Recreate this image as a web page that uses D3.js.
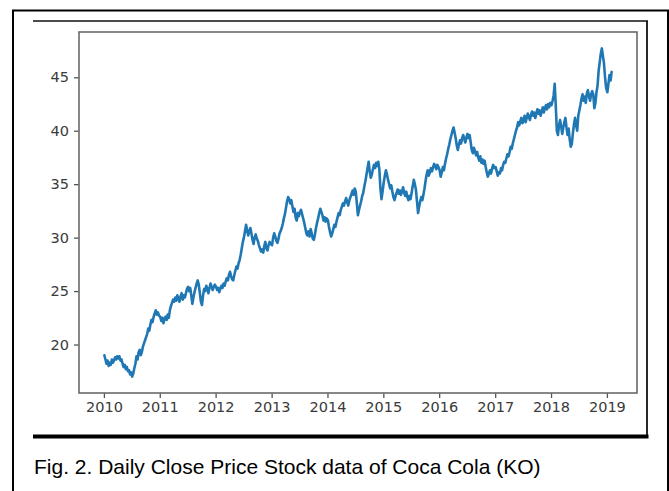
<!DOCTYPE html>
<html>
<head>
<meta charset="utf-8">
<script src="https://cdn.jsdelivr.net/npm/d3@7"></script>
<style>
  html, body { margin: 0; padding: 0; background: #ffffff; }
  svg { display: block; }
</style>
</head>
<body>
<svg id="fig" width="669" height="491"></svg>
<script>
// KO adjusted close, one reading per trading week (13 per quarter)
const ko2010 = [
  19.0,18.6,18.2,18.5,18.0,18.3,18.1,18.6,18.3,18.5,18.8,18.6,18.9,
  18.7,18.9,18.5,18.6,18.2,17.9,18.1,17.7,17.9,17.5,17.6,17.2,17.4,
  17.0,17.3,17.8,18.2,18.9,18.6,19.3,19.5,19.0,19.3,19.8,20.1,20.4,
  20.7,21.0,21.5,21.3,21.9,22.3,22.1,22.6,22.9,23.2,22.8,23.0,22.7
];
const ko2011 = [
  22.6,22.2,22.5,22.0,22.4,22.6,22.3,22.8,22.5,23.2,23.6,23.9,24.2,
  24.0,24.4,24.1,24.6,24.3,24.0,24.5,24.8,24.2,24.6,24.4,24.8,25.2,
  25.4,25.0,25.3,24.6,23.8,24.4,24.9,25.3,25.7,26.0,25.6,24.8,24.0,
  23.7,24.6,25.2,25.0,25.5,25.2,24.8,25.3,25.7,25.4,25.1,25.4,25.6
];
const ko2012 = [
  25.4,25.1,25.3,24.9,25.2,25.5,25.3,25.7,25.5,25.9,26.2,26.0,26.5,
  26.8,26.4,26.1,26.0,26.5,26.9,27.3,27.1,27.6,27.9,28.4,29.0,29.6,
  30.0,30.6,31.2,30.7,30.2,30.6,30.9,30.4,29.8,29.4,30.0,30.3,29.9,
  29.7,29.3,29.0,28.7,28.9,28.6,29.2,29.6,29.0,28.8,29.3,29.6,29.4
];
const ko2013 = [
  29.3,30.0,30.4,30.1,29.7,29.5,29.9,30.4,30.6,30.9,31.3,31.8,32.2,
  32.8,33.4,33.8,33.6,33.2,33.5,32.9,32.4,32.7,31.9,31.6,32.3,32.0,
  32.4,32.6,32.2,31.8,31.4,30.9,30.4,30.2,30.6,30.1,30.8,30.4,29.9,
  29.8,30.3,30.9,31.4,31.8,32.3,32.7,32.4,32.1,31.6,31.9,31.5,31.8
];
const ko2014 = [
  31.6,31.0,30.5,30.1,30.4,30.8,31.2,31.0,31.5,31.9,32.3,32.1,32.6,
  32.9,33.2,33.0,33.4,33.7,33.3,33.0,33.5,33.8,34.1,34.4,34.0,34.6,
  34.3,33.2,32.1,32.6,33.0,33.4,33.9,34.2,34.8,35.3,35.9,36.5,37.1,
  36.2,35.6,35.9,36.4,36.8,36.5,37.0,36.7,37.1,36.4,34.6,33.6,34.3
];
const ko2015 = [
  35.2,35.8,36.3,35.9,35.4,35.0,34.6,34.9,34.3,33.8,33.5,33.9,34.2,
  34.5,34.1,34.4,34.0,34.3,34.7,34.2,33.9,34.3,33.8,33.5,33.9,33.6,
  34.2,34.8,35.4,35.0,34.5,33.4,32.3,32.9,33.4,33.8,33.5,34.0,34.6,
  35.3,35.9,36.3,35.8,36.1,36.5,36.2,36.6,36.9,36.7,36.4,36.8,36.6
];
const ko2016 = [
  36.3,35.7,36.1,36.6,36.3,36.9,37.4,37.8,38.3,38.7,39.2,39.6,40.0,
  40.3,39.8,39.3,38.6,38.2,38.7,39.1,38.8,39.3,39.6,39.2,38.9,39.4,
  39.7,39.3,39.6,38.9,38.2,37.9,38.4,38.1,37.7,38.0,37.5,37.2,37.6,
  37.0,37.3,36.9,37.2,36.6,36.1,35.7,36.0,36.3,36.0,36.5,36.8,36.5
];
const ko2017 = [
  36.6,36.2,35.8,36.1,36.0,36.5,36.3,36.8,37.1,37.0,37.4,37.8,37.6,
  38.0,38.5,38.3,38.8,39.2,39.6,40.0,40.3,40.8,40.5,40.9,41.2,40.7,
  41.0,41.4,40.8,41.2,41.6,41.3,41.0,41.5,41.8,41.4,41.7,41.2,41.6,
  42.0,41.6,41.9,41.4,41.8,42.2,41.7,42.1,42.4,42.0,42.5,42.2,42.6
];
const ko2018 = [
  42.4,42.8,43.3,44.4,42.3,40.0,39.6,40.5,41.0,40.4,39.7,40.3,40.8,
  41.2,40.3,39.6,40.2,39.2,38.5,38.8,39.8,40.6,41.2,40.5,40.0,41.4,
  41.9,42.4,43.0,43.4,42.8,43.2,42.6,43.5,43.8,43.2,42.8,43.4,43.7,
  43.4,42.1,42.6,43.6,44.2,45.6,46.4,47.2,47.7,47.0,46.3,45.0,44.0
];
const ko2019 = [43.6,44.4,45.2,44.7,45.5];

const yearlyCloses = [
  [2010, ko2010], [2011, ko2011], [2012, ko2012], [2013, ko2013], [2014, ko2014],
  [2015, ko2015], [2016, ko2016], [2017, ko2017], [2018, ko2018], [2019, ko2019]
];

const yTickValues = [20, 25, 30, 35, 40, 45];
const xTickYears = [2010, 2011, 2012, 2013, 2014, 2015, 2016, 2017, 2018, 2019];
const captionText = "Fig. 2. Daily Close Price Stock data of Coca Cola (KO)";

// week k of a year -> its first trading day
const series = yearlyCloses.flatMap(([yr, vals]) =>
  vals.map((v, k) => ({ date: new Date(yr, 0, 4 + 7 * k), close: v })));

const svg = d3.select("#fig");

// page frame around the figure block
svg.append("rect")
  .attr("x", 13).attr("y", 10.5)
  .attr("width", 655).attr("height", 500)
  .attr("fill", "none").attr("stroke", "#000").attr("stroke-width", 2);

// figure box: top rule, right rule, heavy bottom rule
svg.append("line").attr("x1", 33).attr("x2", 648).attr("y1", 21).attr("y2", 21)
  .attr("stroke", "#111").attr("stroke-width", 1.5);
svg.append("line").attr("x1", 647).attr("x2", 647).attr("y1", 21).attr("y2", 437)
  .attr("stroke", "#111").attr("stroke-width", 1.8);
svg.append("line").attr("x1", 33).attr("x2", 648.5).attr("y1", 436.5).attr("y2", 436.5)
  .attr("stroke", "#000").attr("stroke-width", 4);

// plot area
const plot = { left: 79, top: 32, right: 637, bottom: 393 };

const xExt = d3.extent(series, d => d.date);
const xPad = (xExt[1] - xExt[0]) * 0.05;
const x = d3.scaleTime()
  .domain([new Date(+xExt[0] - xPad), new Date(+xExt[1] + xPad)])
  .range([plot.left, plot.right]);

const yExt = d3.extent(series, d => d.close);
const yPad = (yExt[1] - yExt[0]) * 0.05;
const y = d3.scaleLinear()
  .domain([yExt[0] - yPad, yExt[1] + yPad])
  .range([plot.bottom, plot.top]);

const tickFont = "'DejaVu Sans', sans-serif";

const xAxis = d3.axisBottom(x)
  .tickValues(xTickYears.map(yr => new Date(yr, 0, 1)))
  .tickFormat(d3.timeFormat("%Y"))
  .tickSize(5).tickPadding(4);

const yAxis = d3.axisLeft(y)
  .tickValues(yTickValues)
  .tickFormat(d3.format("d"))
  .tickSize(5).tickPadding(5);

const gx = svg.append("g").attr("transform", `translate(0,${plot.bottom})`).call(xAxis);
const gy = svg.append("g").attr("transform", `translate(${plot.left},0)`).call(yAxis);

[gx, gy].forEach(g => {
  g.select(".domain").remove();
  g.selectAll(".tick line").attr("stroke", "#555").attr("stroke-width", 1.3);
  g.selectAll(".tick text")
    .attr("fill", "#3a3a3a")
    .style("font-family", tickFont)
    .style("font-size", "14.5px");
});

// series line
const line = d3.line()
  .x(d => x(d.date))
  .y(d => y(d.close));

svg.append("path")
  .datum(series)
  .attr("d", line)
  .attr("fill", "none")
  .attr("stroke", "#1f77b4")
  .attr("stroke-width", 2.6)
  .attr("stroke-linejoin", "round")
  .attr("stroke-linecap", "round");

// axes frame
svg.append("rect")
  .attr("x", plot.left).attr("y", plot.top)
  .attr("width", plot.right - plot.left).attr("height", plot.bottom - plot.top)
  .attr("fill", "none").attr("stroke", "#6a6a6a").attr("stroke-width", 1.6);

// caption
svg.append("text")
  .attr("x", 34).attr("y", 474)
  .style("font-family", "'Liberation Sans', Arial, sans-serif")
  .style("font-size", "21px")
  .attr("fill", "#000")
  .text(captionText);
</script>
</body>
</html>
